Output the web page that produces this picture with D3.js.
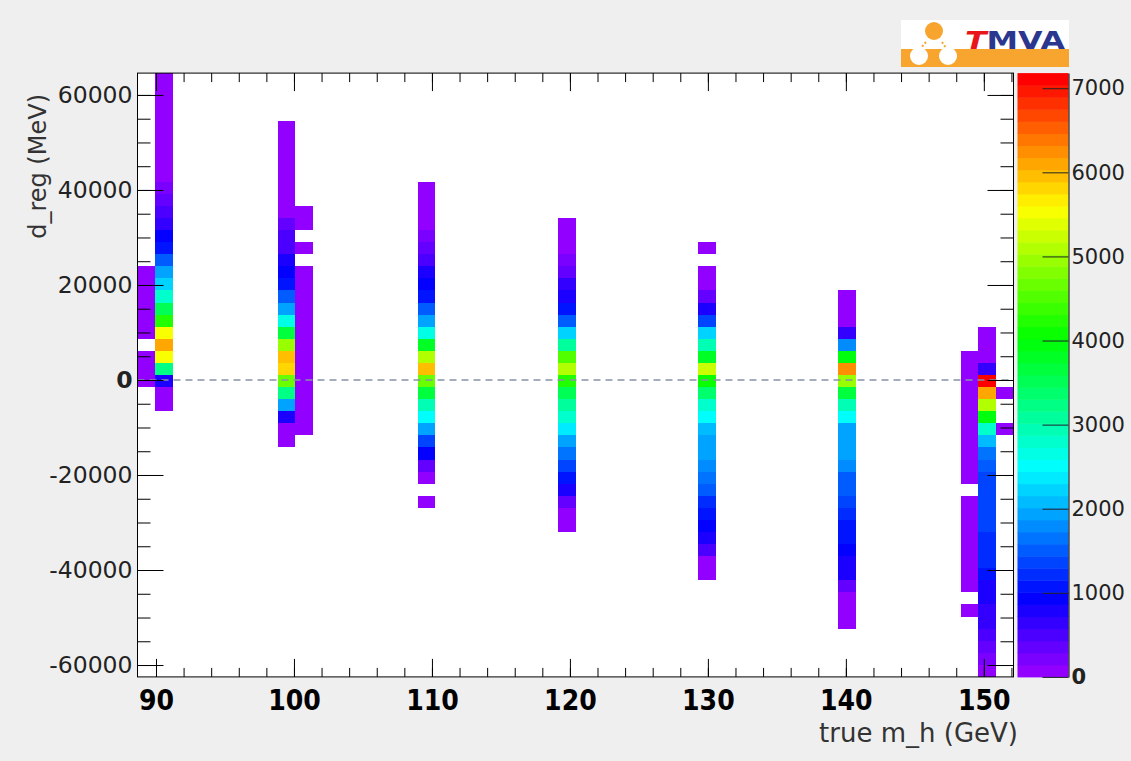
<!DOCTYPE html>
<html>
<head>
<meta charset="utf-8">
<script src="https://cdn.jsdelivr.net/npm/d3@7"></script>
<style>
  body { margin: 0; background: #efefef; }
  svg { display: block; }
</style>
</head>
<body>
<svg id="canvas"></svg>
<script>
// binning of the 2D histogram (50 x 50)
let xRange = [88.66, 152.15]
let yRange = [-62500, 64600]
let nBinsX = 50
let nBinsY = 50
let zMax = 7180

// each column: x bin, first y bin, then counts going up (0 = empty bin)
let colXBin   = [0, 1, 8, 9, 16, 24, 32, 40, 47, 48, 49]
let colYStart = [24, 22, 19, 20, 14, 12, 8, 4, 5, 0, 20]

let h090a = [45, 60, 30, 0, 25, 40, 55, 70, 40, 20]
let h090b = [60, 110, 790, 3230, 5530, 6100, 5500, 4300, 3520, 2800, 2230, 1870, 1500, 1080, 930, 650, 500, 360, 215,
             130, 110, 100, 90, 80, 70, 60, 50, 40]
let h100a = [40, 100, 790, 1940, 3230, 4670, 5750, 6030, 4950, 3660, 2660, 1940, 1510, 1080, 930, 790, 500, 480, 290,
             130, 120, 100, 90, 80, 60, 50, 30]
let h100b = [30, 50, 70, 90, 110, 120, 100, 80, 70, 60, 50, 40, 30, 20, 0, 20, 0, 15, 10]
let h110  = [20, 0, 100, 360, 930, 1360, 1940, 2510, 2940, 3660, 4670, 5960, 5100, 3800, 2660, 1940, 1500, 1080, 930,
             790, 500, 360, 215, 120, 90, 60, 40]
let h120  = [60, 120, 360, 790, 1080, 1360, 1650, 1940, 2370, 2800, 3090, 3520, 4240, 5100, 4520, 3090, 2230, 1510,
             1080, 860, 650, 430, 215, 120, 80, 40]
let h130  = [50, 130, 500, 790, 930, 1100, 1220, 1510, 1650, 1800, 1940, 1980, 2080, 2510, 2870, 3370, 4090, 5240,
             3800, 2940, 2230, 1360, 790, 430, 140, 70, 0, 15]
let h140  = [30, 70, 130, 360, 720, 790, 930, 1080, 1110, 1220, 1360, 1500, 1520, 1800, 1940, 1950, 1930, 2510, 2940,
             3660, 4950, 6250, 3950, 1800, 650, 120, 80, 40]
let h150a = [20, 0, 20, 30, 40, 50, 60, 50, 40, 30, 0, 30, 40, 50, 60, 70, 80, 90, 100, 110, 90, 60]
let h150b = [130, 200, 360, 500, 650, 680, 790, 800, 1080, 1220, 1230, 1250, 1360, 1380, 1400, 1420, 1430, 1510, 1650,
             2080, 2800, 3950, 5100, 6100, 7050, 650, 120, 80, 40]
let h150c = [30, 0, 0, 40]
let colCounts = [h090a, h090b, h100a, h100b, h110, h120, h130, h140, h150a, h150b, h150c]

let xTicks = [90, 100, 110, 120, 130, 140, 150]
let yTicks = [-60000, -40000, -20000, 0, 20000, 40000, 60000]
let zTicks = [0, 1000, 2000, 3000, 4000, 5000, 6000, 7000]

let width = 1131
let height = 761
let frame = { left: 137.5, right: 1013.5, top: 73.1, bottom: 676.9 }
let bar = { left: 1017.5, right: 1068.5 }

let canvas = d3.select("#canvas").attr("width", width).attr("height", height)

let xScale = d3.scaleLinear().domain(xRange).range([frame.left, frame.right])
let yScale = d3.scaleLinear().domain(yRange).range([frame.bottom, frame.top])
let zScale = d3.scaleLinear().domain([0, zMax]).range([frame.bottom, frame.top])

// ROOT "pretty" palette: 50 hues from violet to red
let palette = d3.range(50).map(i => i < 49 ? d3.hsl(280 - (i + 1) * 5.6, 1, 0.5).formatHex() : "#ff0000")
let colorScale = d3.scaleQuantize().domain([0, zMax]).range(palette)

let binW = (xRange[1] - xRange[0]) / nBinsX
let binH = (yRange[1] - yRange[0]) / nBinsY

let cells = []
colCounts.forEach((arr, c) => {
    arr.forEach((n, j) => {
        if (n > 0) cells.push({ ix: colXBin[c], iy: colYStart[c] + j, n: n })
    })
})

// plot area
canvas.append("rect")
    .attr("x", frame.left).attr("y", frame.top)
    .attr("width", frame.right - frame.left).attr("height", frame.bottom - frame.top)
    .attr("fill", "#ffffff")

canvas.append("g").selectAll("rect")
    .data(cells)
    .enter()
    .append("rect")
    .attr("x", d => Math.round(xScale(xRange[0] + d.ix * binW)))
    .attr("width", d => Math.round(xScale(xRange[0] + (d.ix + 1) * binW)) - Math.round(xScale(xRange[0] + d.ix * binW)))
    .attr("y", d => Math.round(yScale(yRange[0] + (d.iy + 1) * binH)))
    .attr("height", d => Math.round(yScale(yRange[0] + d.iy * binH)) - Math.round(yScale(yRange[0] + (d.iy + 1) * binH)))
    .attr("fill", d => colorScale(d.n))

// dashed zero line
canvas.append("line")
    .attr("x1", frame.left).attr("x2", frame.right)
    .attr("y1", yScale(0)).attr("y2", yScale(0))
    .attr("stroke", "#8893a6").attr("stroke-width", 1.5)
    .attr("stroke-dasharray", "7,5")

let yMinor = d3.range(-60000, 64001, 5000)
let xMinor = d3.range(90, 153, 2)

let drawAxes = () => {
    let styleTicks = g => {
        g.select(".domain").remove()
        g.selectAll("line").attr("stroke", "#000").attr("stroke-width", 1)
    }

    // left
    canvas.append("g")
        .attr("transform", "translate(" + frame.left + ",0)")
        .call(d3.axisLeft(yScale).tickValues(yMinor).tickSize(-13).tickFormat(""))
        .call(styleTicks)
    let yAx = canvas.append("g")
        .attr("transform", "translate(" + frame.left + ",0)")
        .call(d3.axisLeft(yScale).tickValues(yTicks).tickSize(-26).tickPadding(5).tickFormat(d => String(d)))
        .call(styleTicks)
    yAx.selectAll("text")
        .attr("font-family", "DejaVu Sans, sans-serif")
        .attr("font-size", 23.5)
        .attr("fill", "#222")
        .attr("font-weight", d => d === 0 ? "bold" : "normal")

    // right mirror
    canvas.append("g")
        .attr("transform", "translate(" + frame.right + ",0)")
        .call(d3.axisRight(yScale).tickValues(yMinor).tickSize(-13).tickFormat(""))
        .call(styleTicks)
    canvas.append("g")
        .attr("transform", "translate(" + frame.right + ",0)")
        .call(d3.axisRight(yScale).tickValues(yTicks).tickSize(-26).tickFormat(""))
        .call(styleTicks)

    // bottom
    canvas.append("g")
        .attr("transform", "translate(0," + frame.bottom + ")")
        .call(d3.axisBottom(xScale).tickValues(xMinor).tickSize(-9).tickFormat(""))
        .call(styleTicks)
    let xAx = canvas.append("g")
        .attr("transform", "translate(0," + frame.bottom + ")")
        .call(d3.axisBottom(xScale).tickValues(xTicks).tickSize(-18).tickPadding(12).tickFormat(d => String(d)))
        .call(styleTicks)
    xAx.selectAll("text")
        .attr("font-family", "Liberation Sans Narrow, DejaVu Sans Condensed, sans-serif")
        .attr("font-weight", "bold")
        .attr("font-size", 28)
        .attr("fill", "#000")
        .attr("dy", "0.75em")

    // top mirror
    canvas.append("g")
        .attr("transform", "translate(0," + frame.top + ")")
        .call(d3.axisTop(xScale).tickValues(xMinor).tickSize(-9).tickFormat(""))
        .call(styleTicks)
    canvas.append("g")
        .attr("transform", "translate(0," + frame.top + ")")
        .call(d3.axisTop(xScale).tickValues(xTicks).tickSize(-18).tickFormat(""))
        .call(styleTicks)

    // frame
    canvas.append("rect")
        .attr("x", frame.left).attr("y", frame.top)
        .attr("width", frame.right - frame.left).attr("height", frame.bottom - frame.top)
        .attr("fill", "none").attr("stroke", "#000").attr("stroke-width", 1)
}

let drawPaletteAxis = () => {
    canvas.append("g").selectAll("rect")
        .data(palette)
        .enter()
        .append("rect")
        .attr("x", bar.left)
        .attr("width", bar.right - bar.left)
        .attr("y", (c, i) => zScale((i + 1) * zMax / 50))
        .attr("height", (c, i) => zScale(i * zMax / 50) - zScale((i + 1) * zMax / 50) + 0.5)
        .attr("fill", c => c)

    let zAx = canvas.append("g")
        .attr("transform", "translate(" + bar.right + ",0)")
        .call(d3.axisRight(zScale).tickValues(zTicks).tickSize(-26).tickSizeOuter(0).tickPadding(3).tickFormat(d => String(d)))
    zAx.select(".domain").attr("stroke", "#000")
    zAx.selectAll("line").attr("stroke", "#222")
    zAx.selectAll("text")
        .attr("font-family", "DejaVu Sans, sans-serif")
        .attr("font-size", 21)
        .attr("fill", "#222")
        .attr("font-weight", d => d === 0 ? "bold" : "normal")
}

let drawTitles = () => {
    canvas.append("text")
        .attr("transform", "translate(46,94) rotate(-90)")
        .attr("text-anchor", "end")
        .attr("font-family", "DejaVu Sans, sans-serif")
        .attr("font-size", 24)
        .attr("fill", "#333")
        .text("d_reg (MeV)")

    canvas.append("text")
        .attr("x", 1018).attr("y", 742)
        .attr("text-anchor", "end")
        .attr("font-family", "DejaVu Sans, sans-serif")
        .attr("font-size", 26)
        .attr("fill", "#333")
        .text("true m_h (GeV)")
}

let drawLogo = () => {
    let g = canvas.append("g")
    g.append("rect").attr("x", 901).attr("y", 20).attr("width", 168).attr("height", 47).attr("fill", "#ffffff")
    g.append("rect").attr("x", 901).attr("y", 49).attr("width", 168).attr("height", 18).attr("fill", "#f7a52e")
    g.append("line").attr("x1", 920).attr("y1", 55).attr("x2", 946).attr("y2", 55)
        .attr("stroke", "#f7a52e").attr("stroke-width", 2).attr("stroke-dasharray", "2,2")
    g.append("circle").attr("cx", 934).attr("cy", 31).attr("r", 9).attr("fill", "#f7a52e")
    g.append("circle").attr("cx", 919).attr("cy", 56).attr("r", 9).attr("fill", "#ffffff")
    g.append("circle").attr("cx", 948).attr("cy", 56).attr("r", 9).attr("fill", "#ffffff")
    g.append("line").attr("x1", 926).attr("y1", 42).attr("x2", 921).attr("y2", 48)
        .attr("stroke", "#f7a52e").attr("stroke-width", 2).attr("stroke-dasharray", "2,2")
    g.append("line").attr("x1", 942).attr("y1", 42).attr("x2", 946).attr("y2", 48)
        .attr("stroke", "#f7a52e").attr("stroke-width", 2).attr("stroke-dasharray", "2,2")
    let t = g.append("text")
        .attr("x", 965).attr("y", 49)
        .attr("font-family", "DejaVu Sans, sans-serif")
        .attr("font-weight", "bold")
        .attr("font-size", 25)
        .attr("textLength", 100)
        .attr("lengthAdjust", "spacingAndGlyphs")
    t.append("tspan").attr("fill", "#e8161b").attr("font-style", "italic").text("T")
    t.append("tspan").attr("fill", "#2b378f").text("MVA")
}

drawAxes()
drawPaletteAxis()
drawTitles()
drawLogo()
</script>
</body>
</html>
